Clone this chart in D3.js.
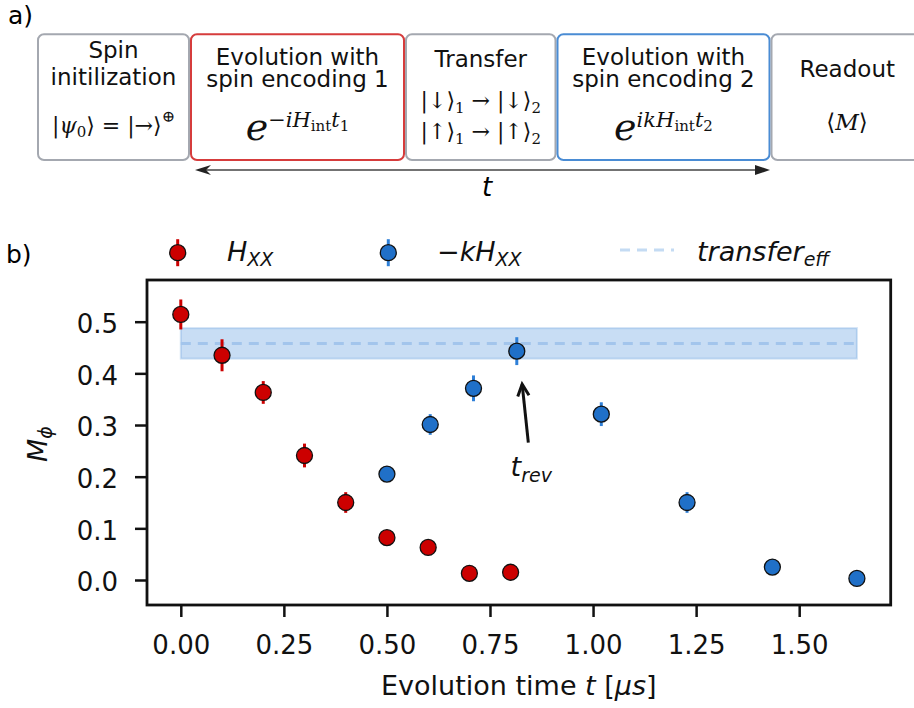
<!DOCTYPE html>
<html>
<head>
<meta charset="utf-8">
<script src="https://cdn.jsdelivr.net/npm/d3@7"></script>
<style>
  body { margin: 0; background: #fff; }
  svg { display: block; font-family: "DejaVu Sans", sans-serif; }
  text { white-space: pre; }
</style>
</head>
<body>
<svg id="fig" width="914" height="708"></svg>
<script>
// measured data: H_XX evolution (red)
const redTime = [0, 0.1, 0.2, 0.3, 0.4, 0.5, 0.6, 0.7, 0.8]
const redM = [0.514, 0.435, 0.363, 0.241, 0.150, 0.082, 0.063, 0.013, 0.015]
const redErr = [0.029, 0.031, 0.022, 0.023, 0.020, 0.008, 0.008, 0.006, 0.006]

// -kH_XX evolution (blue)
const blueTime = [0.5, 0.605, 0.71, 0.815, 1.02, 1.228, 1.435, 1.64]
const blueM = [0.205, 0.301, 0.371, 0.443, 0.321, 0.150, 0.025, 0.003]
const blueErr = [0.008, 0.020, 0.025, 0.027, 0.023, 0.020, 0.008, 0.006]

// transfer efficiency band
const transferEff = 0.458
const transferErr = 0.0295
const transferSpan = [0, 1.64]

// revival annotation
const revTip = [0.828, 0.379]
const revTail = [0.843, 0.266]
const revLabelAt = [0.8, 0.2]

const xTicks = [0, 0.25, 0.5, 0.75, 1.0, 1.25, 1.5]
const yTicks = [0, 0.1, 0.2, 0.3, 0.4, 0.5]

// sequence diagram steps
const stepTitles = [
  ['Spin', 'initilization'],
  ['Evolution with', 'spin encoding 1'],
  ['Transfer'],
  ['Evolution with', 'spin encoding 2'],
  ['Readout']
]
const stepColors = ['#a4a8b0', '#d63c3c', '#a4a8b0', '#4a8cd4', '#a4a8b0']

const svg = d3.select('#fig')
const mathFont = '"DejaVu Serif", "Liberation Serif", serif'
const sans = '"DejaVu Sans", sans-serif'

// rich text helper: segs = [{t, size, it, dy}]
function rich (sel, x, y, segs, family, anchor) {
  const t = sel.append('text')
    .attr('x', x)
    .attr('y', y)
    .attr('text-anchor', anchor || 'middle')
    .attr('font-family', family)
    .attr('fill', '#111')
  let prev = 0
  segs.forEach(s => {
    const shift = s.dy || 0
    t.append('tspan')
      .attr('dy', shift - prev)
      .attr('font-size', s.size)
      .attr('font-style', s.it ? 'italic' : 'normal')
      .text(s.t)
    prev = shift
  })
  return t
}

// ---------- panel a ----------
svg.append('text').attr('x', 8).attr('y', 24).attr('font-size', 25).text('a)')

const edges = [37, 190, 405, 556.5, 770.5, 924]
const boxTop = 34.3
const boxBottom = 160
const titleBase = [[58.3, 85], [64.5, 86.7], [66.7], [64.5, 86.7], [76.7]]

const diagram = svg.append('g')
stepTitles.forEach((lines, i) => {
  diagram.append('rect')
    .attr('x', edges[i] + 1)
    .attr('y', boxTop)
    .attr('width', edges[i + 1] - edges[i] - 2)
    .attr('height', boxBottom - boxTop)
    .attr('rx', 6)
    .attr('fill', 'none')
    .attr('stroke', stepColors[i])
    .attr('stroke-width', 2)
  const cx = (edges[i] + edges[i + 1]) / 2
  lines.forEach((l, j) => {
    diagram.append('text')
      .attr('x', cx)
      .attr('y', titleBase[i][j])
      .attr('text-anchor', 'middle')
      .attr('font-size', 23)
      .attr('fill', '#111')
      .text(l)
  })
})

const cxs = edges.slice(0, 5).map((e, i) => (e + edges[i + 1]) / 2)
// step formulas
rich(diagram, cxs[0], 133, [
  { t: '|', size: 22 }, { t: 'ψ', size: 22, it: true }, { t: '0', size: 15, dy: 4 },
  { t: '⟩ = |→⟩', size: 22 }, { t: '⊕', size: 16, dy: -11 }
], mathFont)
rich(diagram, cxs[1], 140, [
  { t: 'e', size: 38, it: true },
  { t: '−', size: 21, dy: -13 }, { t: 'iH', size: 21, it: true, dy: -13 },
  { t: 'int', size: 15, dy: -9 }, { t: 't', size: 21, it: true, dy: -13 },
  { t: '1', size: 15, dy: -9 }
], mathFont)
rich(diagram, cxs[2], 108, [
  { t: '|↓⟩', size: 22 }, { t: '1', size: 15, dy: 5 }, { t: ' → |↓⟩', size: 22 },
  { t: '2', size: 15, dy: 5 }
], mathFont)
rich(diagram, cxs[2], 139, [
  { t: '|↑⟩', size: 22 }, { t: '1', size: 15, dy: 5 }, { t: ' → |↑⟩', size: 22 },
  { t: '2', size: 15, dy: 5 }
], mathFont)
rich(diagram, cxs[3], 140, [
  { t: 'e', size: 38, it: true },
  { t: 'ikH', size: 21, it: true, dy: -13 },
  { t: 'int', size: 15, dy: -9 }, { t: 't', size: 21, it: true, dy: -13 },
  { t: '2', size: 15, dy: -9 }
], mathFont)
rich(diagram, 847, 130, [
  { t: '⟨', size: 23 }, { t: 'M', size: 23, it: true }, { t: '⟩', size: 23 }
], mathFont)

// time arrow
diagram.append('line')
  .attr('x1', 200).attr('x2', 760).attr('y1', 170).attr('y2', 170)
  .attr('stroke', '#444').attr('stroke-width', 1.6)
diagram.append('path')
  .attr('d', 'M195,170 L211,165 L206,170 L211,175 Z')
  .attr('fill', '#222')
diagram.append('path')
  .attr('d', 'M770,170 L755,165 L755,175 Z')
  .attr('fill', '#222')
diagram.append('text')
  .attr('x', 487).attr('y', 196)
  .attr('text-anchor', 'middle')
  .attr('font-size', 26)
  .attr('font-style', 'italic')
  .text('t')

// ---------- panel b ----------
svg.append('text').attr('x', 6).attr('y', 263).attr('font-size', 25).text('b)')

const plotLeft = 147
const plotRight = 890.7
const plotTop = 280
const plotBottom = 605

const x = d3.scaleLinear().domain([-0.082, 1.722]).range([plotLeft, plotRight])
const y = d3.scaleLinear().domain([-0.0484, 0.5807]).range([plotBottom, plotTop])

const plot = svg.append('g')

// transfer band
plot.append('rect')
  .attr('x', x(transferSpan[0]))
  .attr('y', y(transferEff + transferErr))
  .attr('width', x(transferSpan[1]) - x(transferSpan[0]))
  .attr('height', y(transferEff - transferErr) - y(transferEff + transferErr))
  .attr('fill', '#4a90d9')
  .attr('fill-opacity', 0.3)
  .attr('stroke', '#4a90d9')
  .attr('stroke-opacity', 0.25)
  .attr('stroke-width', 2)
plot.append('line')
  .attr('x1', x(transferSpan[0])).attr('x2', x(transferSpan[1]))
  .attr('y1', y(transferEff)).attr('y2', y(transferEff))
  .attr('stroke', '#a3c5ec')
  .attr('stroke-width', 3)
  .attr('stroke-dasharray', '10,7')

function series (times, vals, errs, fill, errColor) {
  const pts = times.map((t, i) => ({ t, v: vals[i], e: errs[i] }))
  const g = plot.append('g')
  g.selectAll('line')
    .data(pts)
    .join('line')
    .attr('x1', d => x(d.t)).attr('x2', d => x(d.t))
    .attr('y1', d => y(d.v - d.e)).attr('y2', d => y(d.v + d.e))
    .attr('stroke', errColor)
    .attr('stroke-width', 3)
  g.selectAll('circle')
    .data(pts)
    .join('circle')
    .attr('cx', d => x(d.t))
    .attr('cy', d => y(d.v))
    .attr('r', 8)
    .attr('fill', fill)
    .attr('stroke', '#111')
    .attr('stroke-width', 1.3)
}
series(redTime, redM, redErr, '#cc0000', '#cc0000')
series(blueTime, blueM, blueErr, '#2070c8', '#2f80d8')

// axes
const xAxis = plot.append('g')
  .attr('transform', `translate(0,${plotBottom})`)
  .call(d3.axisBottom(x).tickValues(xTicks).tickFormat(d3.format('.2f')).tickSize(12).tickPadding(19))
const yAxis = plot.append('g')
  .attr('transform', `translate(${plotLeft},0)`)
  .call(d3.axisLeft(y).tickValues(yTicks).tickFormat(d3.format('.1f')).tickSize(12).tickPadding(17))
;[xAxis, yAxis].forEach(a => {
  a.select('.domain').remove()
  a.selectAll('.tick line').attr('stroke', '#111').attr('stroke-width', 2.5)
  a.selectAll('.tick text')
    .attr('font-size', 26)
    .attr('font-family', sans)
    .attr('fill', '#111')
})
yAxis.selectAll('.tick text').attr('dy', '0.42em')

plot.append('rect')
  .attr('x', plotLeft).attr('y', plotTop)
  .attr('width', plotRight - plotLeft).attr('height', plotBottom - plotTop)
  .attr('fill', 'none')
  .attr('stroke', '#111')
  .attr('stroke-width', 2.8)

// revival arrow
const tip = [x(revTip[0]), y(revTip[1])]
const tail = [x(revTail[0]), y(revTail[1])]
const ang = Math.atan2(tip[1] - tail[1], tip[0] - tail[0])
const wing = 13
const spread = 0.45
plot.append('line')
  .attr('x1', tail[0]).attr('y1', tail[1])
  .attr('x2', tip[0]).attr('y2', tip[1])
  .attr('stroke', '#111').attr('stroke-width', 3)
plot.append('path')
  .attr('d', `M${tip[0] - wing * Math.cos(ang - spread)},${tip[1] - wing * Math.sin(ang - spread)}
    L${tip[0]},${tip[1]}
    L${tip[0] - wing * Math.cos(ang + spread)},${tip[1] - wing * Math.sin(ang + spread)}`)
  .attr('fill', 'none')
  .attr('stroke', '#111').attr('stroke-width', 3)
  .attr('stroke-linejoin', 'miter')
rich(plot, x(revLabelAt[0]), y(revLabelAt[1]) - 1, [
  { t: 't', size: 27, it: true }, { t: 'rev', size: 19, it: true, dy: 6 }
], sans, 'start')

// axis labels
rich(svg, (plotLeft + plotRight) / 2, 695, [
  { t: 'Evolution time ', size: 27 }, { t: 't', size: 27, it: true },
  { t: ' [', size: 27 }, { t: 'μs', size: 27, it: true }, { t: ']', size: 27 }
], sans)
const yl = svg.append('g').attr('transform', 'translate(47,444) rotate(-90)')
rich(yl, 0, 0, [
  { t: 'M', size: 27, it: true }, { t: 'ϕ', size: 19, it: true, dy: 5 }
], sans)

// legend
const legend = svg.append('g')
const legendY = 252.7
;[[177.7, '#cc0000', '#cc0000'], [388.3, '#2070c8', '#2f80d8']].forEach(([lx, fill, ec]) => {
  legend.append('line')
    .attr('x1', lx).attr('x2', lx).attr('y1', legendY - 13.5).attr('y2', legendY + 13.5)
    .attr('stroke', ec).attr('stroke-width', 3)
  legend.append('circle')
    .attr('cx', lx).attr('cy', legendY).attr('r', 8)
    .attr('fill', fill).attr('stroke', '#111').attr('stroke-width', 1.3)
})
legend.append('line')
  .attr('x1', 620).attr('x2', 674).attr('y1', 250).attr('y2', 250)
  .attr('stroke', '#c4dbf3').attr('stroke-width', 3).attr('stroke-dasharray', '10,7')
rich(legend, 227, 261, [
  { t: 'H', size: 27, it: true }, { t: 'XX', size: 19, it: true, dy: 5 }
], sans, 'start')
rich(legend, 437, 261, [
  { t: '−', size: 27 }, { t: 'kH', size: 27, it: true }, { t: 'XX', size: 19, it: true, dy: 5 }
], sans, 'start')
rich(legend, 697, 261, [
  { t: 'transfer', size: 27, it: true }, { t: 'eff', size: 19, it: true, dy: 5 }
], sans, 'start')
</script>
</body>
</html>
